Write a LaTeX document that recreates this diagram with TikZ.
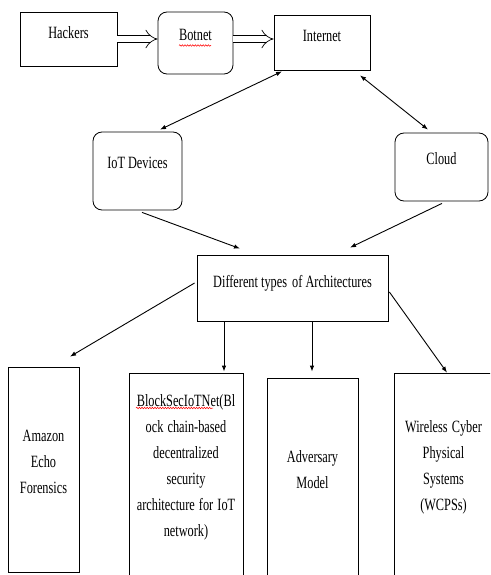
\documentclass[tikz,border=0pt]{standalone}
\usepackage{fontspec}
\setmainfont{Liberation Serif}
\usetikzlibrary{arrows.meta,decorations.pathmorphing}
\newcommand{\tall}[1]{\scalebox{1}[1.4]{#1}}
\begin{document}
\begin{tikzpicture}[x=1pt,y=-1pt,
  box/.style={draw, line width=0.8pt, inner sep=2pt, text height=8.5pt,
    font=\fontsize{12.3}{26}\selectfont, align=center},
  rbox/.style={box, rounded corners=9pt},
  one/.style={line width=0.9pt, -{Latex[length=6pt,width=4.5pt]}},
  two/.style={line width=0.9pt, {Latex[length=6pt,width=4.5pt]}-{Latex[length=6pt,width=4.5pt]}},
  dbl/.style={double, double distance=6pt, line width=0.7pt, -{Implies}},
  squig/.style={red, line width=0.5pt, decorate,
    decoration={snake, amplitude=0.8pt, segment length=2.6pt}}
]
\useasboundingbox (0,0) rectangle (490,575);
\fill[white] (0,0) rectangle (490,575);
\clip (0,0) rectangle (490,575);

% top row
\node[box, minimum width=97pt, minimum height=54pt, text depth=9.3pt] (hack) at (68.5,39) {\tall{Hackers}};
\node[rbox, minimum width=75pt, minimum height=62pt, text depth=13.3pt] (bot) at (195.5,43) {\tall{Botnet}};
\node[box, minimum width=96pt, minimum height=55pt, text depth=10.3pt] (int) at (322,42.5) {\tall{Internet}};

% middle row
\node[rbox, minimum width=89pt, minimum height=78pt, text depth=13.3pt] (iot) at (137.5,171) {\tall{IoT Devices}};
\node[rbox, minimum width=93pt, minimum height=68pt, text depth=13.3pt] (cloud) at (441.5,167) {\tall{Cloud}};

\node[box, minimum width=191pt, minimum height=66pt, text depth=9.3pt] (arch) at (292.5,288) {\tall{Different types\, of Architectures}};

% bottom row
\node[box, minimum width=71pt, minimum height=205pt, text width=62pt, text depth=65.3pt] (amaz) at (43.5,469.5)
  {\tall{Amazon}\\\tall{Echo}\\\tall{Forensics}};
\node[box, minimum width=114pt, minimum height=227pt, text width=108pt, text depth=168.3pt] (block) at (186,486.5)
  {\tall{BlockSecIoTNet(Bl}\\\tall{ock chain-based}\\\tall{decentralized}\\\tall{security}\\\tall{architecture for IoT}\\\tall{network)}};
\node[box, minimum width=91pt, minimum height=222pt, text width=85pt, text depth=61.3pt] (adv) at (312.5,489)
  {\tall{Adversary}\\\tall{Model}};
\node[box, minimum width=99pt, minimum height=227pt, text width=93pt, text depth=116.3pt] (wcps) at (443.5,486.5)
  {\tall{Wireless Cyber}\\\tall{Physical}\\\tall{Systems}\\\tall{(WCPSs)}};

% connectors
\draw[dbl] (hack.east) -- (hack.east -| bot.west);
\draw[dbl] (hack.east -| bot.east) -- (hack.east -| int.west);

\draw[two] ([xshift=22.5pt,yshift=2pt]iot.north) -- ([xshift=-40pt,yshift=-1pt]int.south);
\draw[two] ([xshift=38pt,yshift=-5pt]int.south) -- ([xshift=-13.5pt,yshift=3pt]cloud.north);

\draw[one] ([xshift=4.5pt,yshift=-2pt]iot.south) -- ([xshift=-52.5pt,yshift=6pt]arch.north);
\draw[one] ([xshift=0.5pt,yshift=-2pt]cloud.south) -- ([xshift=57.5pt,yshift=7pt]arch.north);

\draw[one] ([xshift=-2pt,yshift=5pt]arch.west) -- ([xshift=26.5pt,yshift=10pt]amaz.north);
\draw[one] ([xshift=-68.5pt,yshift=-1pt]arch.south) -- ([xshift=38pt,yshift=1pt]block.north);
\draw[one] ([xshift=19.5pt,yshift=-1pt]arch.south) -- ([xshift=-0.5pt,yshift=6pt]adv.north);
\draw[one] ([xshift=1pt,yshift=-4pt]arch.east) -- ([xshift=3.5pt]wcps.north);

% spell-check underlines
\draw[squig] (179,45.5) -- (211,45.5);
\draw[squig] (136,408) -- (213,408);
\end{tikzpicture}
\end{document}
